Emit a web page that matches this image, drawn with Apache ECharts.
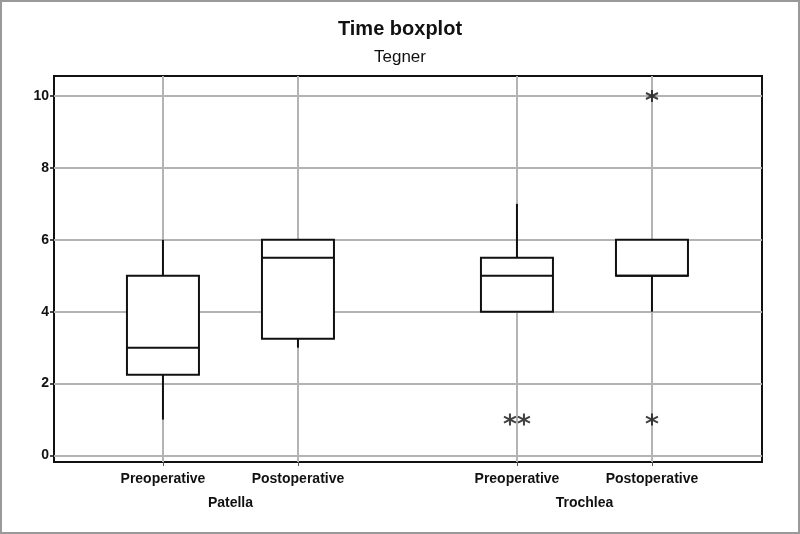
<!DOCTYPE html>
<html>
<head>
<meta charset="utf-8">
<title>Time boxplot</title>
<script src="https://cdn.jsdelivr.net/npm/echarts@6/dist/echarts.min.js"></script>
<style>
    html, body { margin: 0; padding: 0; background: #fff; }
    #chart { width: 800px; height: 534px; box-sizing: border-box; border: 2px solid #9a9a9a; }
</style>
</head>
<body>
<div id="chart"></div>
<script>
// groups and cases on the x axis
var groups = ['Patella', 'Trochlea'];
var cases = ['Preoperative', 'Postoperative'];

// box stats per group, per case: [min, Q1, median, Q3, max] (whisker ends)
var patellaBoxes = [
    [1, 2.25, 3, 5, 6],
    [3, 3.25, 5.5, 6, 6]
];
var trochleaBoxes = [
    [4, 4, 5, 5.5, 7],
    [4, 5, 5, 6, 6]
];

// outliers: [groupIndex, caseIndex, value]
var outliers = [
    [1, 0, 1],
    [1, 0, 1],
    [1, 1, 10],
    [1, 1, 1]
];

var yTicks = [0, 2, 4, 6, 8, 10];

/**
 * x position of a box: cases one unit apart, groups further apart
 */
var GROUP_STEP = 2.622;
function xPos(g, c) {
    return g * GROUP_STEP + c;
}

timeBoxplotChart();

/**
 * Time boxplot 图表
 */
function timeBoxplotChart() {
    var dom = document.getElementById('chart');
    var myChart = echarts.init(dom, null, {renderer: 'canvas'});

    var boxData = [];
    [patellaBoxes, trochleaBoxes].forEach(function (boxes, g) {
        boxes.forEach(function (b, c) {
            boxData.push([xPos(g, c)].concat(b));
        });
    });

    // tied outliers are drawn side by side
    var seen = {};
    var outlierData = outliers.map(function (o) {
        var key = o.join('_');
        seen[key] = (seen[key] || 0) + 1;
        return {value: [xPos(o[0], o[1]), o[2]], key: key, n: seen[key]};
    });
    outlierData.forEach(function (d) {
        var total = seen[d.key];
        d.symbolOffset = total > 1 ? [(d.n - (total + 1) / 2) * 14, 0] : [0, 0];
        delete d.key;
        delete d.n;
    });

    var caseTicks = [];
    var caseNames = {};
    var groupTicks = [];
    var groupNames = {};
    groups.forEach(function (gName, g) {
        cases.forEach(function (cName, c) {
            caseTicks.push(xPos(g, c));
            caseNames[xPos(g, c).toFixed(3)] = cName;
        });
        var mid = xPos(g, (cases.length - 1) / 2);
        groupTicks.push(mid);
        groupNames[mid.toFixed(3)] = gName;
    });

    var BOX_W = 72;
    var asterisk = 'path://M0,-1L0,1M-0.87,-0.5L0.87,0.5M-0.87,0.5L0.87,-0.5';

    var option = {
        animation: false,
        textStyle: {fontFamily: 'Liberation Sans, Arial, sans-serif'},
        title: {
            text: 'Time boxplot',
            subtext: 'Tegner',
            left: 'center',
            top: 12,
            itemGap: 10,
            textStyle: {fontSize: 20, fontWeight: 'bold', color: '#111'},
            subtextStyle: {fontSize: 17, color: '#111'}
        },
        grid: {
            left: 52,
            right: 36,
            top: 74,
            bottom: 70,
            show: true,
            borderColor: '#111',
            borderWidth: 2,
            backgroundColor: '#fff'
        },
        xAxis: [
            {
                type: 'value',
                min: -0.807,
                max: 4.437,
                axisLine: {show: false, onZero: false},
                axisTick: {show: true, length: 4, customValues: caseTicks, lineStyle: {color: '#555', width: 1}},
                splitLine: {show: true, lineStyle: {color: '#b4b4b4', width: 2}},
                axisLabel: {
                    customValues: caseTicks,
                    margin: 10,
                    fontSize: 14,
                    fontWeight: 'bold',
                    color: '#111',
                    formatter: function (v) {
                        return caseNames[v.toFixed(3)] || '';
                    }
                }
            },
            {
                type: 'value',
                position: 'bottom',
                min: -0.807,
                max: 4.437,
                axisLine: {show: false, onZero: false},
                axisTick: {show: false},
                splitLine: {show: false},
                axisLabel: {
                    customValues: groupTicks,
                    margin: 34,
                    fontSize: 14,
                    fontWeight: 'bold',
                    color: '#111',
                    formatter: function (v) {
                        return groupNames[v.toFixed(3)] || '';
                    }
                }
            }
        ],
        yAxis: {
            type: 'value',
            min: -0.18,
            max: 10.556,
            axisLine: {show: false, onZero: false},
            axisTick: {show: true, length: 4, customValues: yTicks, lineStyle: {color: '#111', width: 1.5}},
            splitLine: {show: true, lineStyle: {color: '#b4b4b4', width: 2}},
            axisLabel: {
                customValues: yTicks,
                margin: 5,
                fontSize: 14,
                fontWeight: 'bold',
                color: '#111'
            }
        },
        series: [
            {
                type: 'custom',
                name: 'box',
                xAxisIndex: 0,
                encode: {x: 0, y: [1, 2, 3, 4, 5]},
                data: boxData,
                z: 3,
                renderItem: function (params, api) {
                    var x = api.value(0);
                    var pMin = api.coord([x, api.value(1)]);
                    var pQ1 = api.coord([x, api.value(2)]);
                    var pMed = api.coord([x, api.value(3)]);
                    var pQ3 = api.coord([x, api.value(4)]);
                    var pMax = api.coord([x, api.value(5)]);
                    var cx = pMed[0];
                    var half = BOX_W / 2;
                    var line = {stroke: '#111', lineWidth: 2};
                    return {
                        type: 'group',
                        children: [
                            {type: 'line', shape: {x1: cx, y1: pQ3[1], x2: cx, y2: pMax[1]}, style: line},
                            {type: 'line', shape: {x1: cx, y1: pQ1[1], x2: cx, y2: pMin[1]}, style: line},
                            {
                                type: 'rect',
                                shape: {x: cx - half, y: pQ3[1], width: BOX_W, height: pQ1[1] - pQ3[1]},
                                style: {fill: '#fff', stroke: '#111', lineWidth: 2}
                            },
                            {type: 'line', shape: {x1: cx - half, y1: pMed[1], x2: cx + half, y2: pMed[1]}, style: line}
                        ]
                    };
                }
            },
            {
                type: 'scatter',
                name: 'outlier',
                xAxisIndex: 0,
                symbol: asterisk,
                symbolSize: 12,
                z: 4,
                itemStyle: {color: 'rgba(0,0,0,0)', borderColor: '#111', borderWidth: 2},
                data: outlierData
            }
        ]
    };
    if (option && typeof option === "object") {
        myChart.setOption(option, true);
    }
}
</script>
</body>
</html>
